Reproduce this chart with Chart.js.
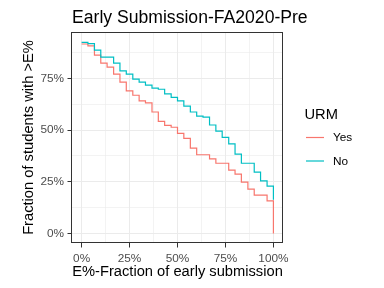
<!DOCTYPE html>
<html>
<head>
<meta charset="utf-8">
<script src="https://cdn.jsdelivr.net/npm/chart.js@4/dist/chart.umd.min.js"></script>
<style>
  html, body { margin: 0; padding: 0; background: #fff; }
  #chart { display: block; }
</style>
</head>
<body>
<canvas id="chart" width="384" height="288"></canvas>
<script>
(function () {
    // E% (fraction of early submission), where each step starts
    var earlyPct = [0, 3.3, 6.7, 10, 13.3, 16.7, 20, 23.3, 26.7, 30, 33.3, 36.7, 40, 43.3, 46.7,
                    50, 53.3, 56.7, 60, 63.3, 66.7, 70, 73.3, 76.7, 80, 83.3, 86.7, 90, 93.3, 96.7, 100];
    // fraction of students with > E%, in percent
    var urmYes = [91.7, 90.8, 86.3, 82.4, 80.5, 77.1, 73.2, 69.0, 66.9, 64.2, 63.2, 58.8, 54.3, 52.3, 51.4,
                  48.4, 46.0, 41.3, 38.1, 38.1, 36.1, 34.0, 34.0, 30.7, 28.7, 24.9, 21.5, 18.6, 18.6, 15.8, 0];
    var urmNo = [92.5, 91.9, 88.7, 85.3, 85.3, 82.4, 78.7, 77.1, 74.7, 73.2, 71.8, 70.3, 69.8, 67.6, 65.9,
                 64.2, 61.6, 58.8, 56.8, 56.3, 52.5, 49.5, 46.5, 43.4, 38.4, 34.0, 34.0, 29.7, 25.5, 22.9, 16.3];
    var groupNames = ['Yes', 'No'];
    var groupColors = ['#F8766D', '#00BFC4'];
    var xTicks = [0, 12.5, 25, 37.5, 50, 62.5, 75, 87.5, 100];
    var yTicks = [0, 12.5, 25, 37.5, 50, 62.5, 75, 87.5];

    var FONT = '"Liberation Sans", Arial, sans-serif';

    function toPoints(ys) {
        var pts = [];
        for (var i = 0; i < ys.length; i++) {
            pts.push({ x: earlyPct[i], y: ys[i] });
        }
        return pts;
    }

    function isMajor(v) {
        return v % 25 === 0;
    }

    function gridOpts() {
        return {
            color: '#EBEBEB',
            lineWidth: function (c) { return isMajor(c.tick.value) ? 1 : 0.6; },
            tickColor: function (c) { return isMajor(c.tick.value) ? '#333333' : 'rgba(0,0,0,0)'; },
            tickLength: 4.5,
            drawOnChartArea: true
        };
    }

    function pctLabel(v) {
        return isMajor(v) ? v + '%' : '';
    }

    // panel border, title and legend drawn like ggplot's theme_bw
    var decor = {
        id: 'decor',
        afterDatasetsDraw: function (chart) {
            var ctx = chart.ctx, a = chart.chartArea;
            var l = Math.round(a.left) - 0.5, t = Math.round(a.top) + 0.5;
            var r = Math.round(a.right) - 0.5, b = Math.round(a.bottom) - 0.5;
            ctx.save();
            ctx.strokeStyle = '#333333';
            ctx.lineWidth = 1;
            ctx.strokeRect(l, t, r - l, b - t);
            ctx.restore();
        },
        afterDraw: function (chart) {
            var ctx = chart.ctx;
            ctx.save();
            ctx.fillStyle = '#000';
            ctx.textBaseline = 'alphabetic';
            ctx.textAlign = 'left';
            ctx.font = '17.6px ' + FONT;
            ctx.fillText('Early Submission-FA2020-Pre', 72, 22.7);

            ctx.font = '14.7px ' + FONT;
            ctx.fillText('URM', 304.5, 118.5);
            ctx.font = '11.8px ' + FONT;
            ctx.textBaseline = 'middle';
            var rows = [137.5, 161];
            for (var i = 0; i < groupNames.length; i++) {
                ctx.strokeStyle = groupColors[i];
                ctx.lineWidth = 1.2;
                ctx.beginPath();
                ctx.moveTo(306, rows[i]);
                ctx.lineTo(324, rows[i]);
                ctx.stroke();
                ctx.fillStyle = '#000';
                ctx.fillText(groupNames[i], 333, rows[i] + 0.5);
            }
            ctx.restore();
        }
    };

    new Chart(document.getElementById('chart').getContext('2d'), {
        type: 'line',
        data: {
            datasets: [
                { label: groupNames[0], data: toPoints(urmYes), borderColor: groupColors[0], order: 1 },
                { label: groupNames[1], data: toPoints(urmNo), borderColor: groupColors[1], order: 0 }
            ]
        },
        options: {
            responsive: false,
            animation: false,
            devicePixelRatio: 1,
            layout: { padding: { top: 32, right: 101, bottom: 0, left: 0 } },
            elements: {
                line: { stepped: 'before', borderWidth: 1.2, fill: false, tension: 0 },
                point: { radius: 0, hoverRadius: 0 }
            },
            plugins: {
                legend: { display: false },
                title: { display: false },
                tooltip: { enabled: false }
            },
            scales: {
                x: {
                    type: 'linear',
                    min: -5,
                    max: 105,
                    afterBuildTicks: function (s) {
                        s.ticks = xTicks.map(function (v) { return { value: v }; });
                    },
                    afterFit: function (s) { s.height = 45; },
                    grid: gridOpts(),
                    border: { display: false },
                    ticks: {
                        callback: pctLabel,
                        color: '#4D4D4D',
                        font: { family: FONT, size: 11.8 },
                        padding: 4,
                        maxRotation: 0,
                        autoSkip: false
                    },
                    title: {
                        display: true,
                        text: 'E%-Fraction of early submission',
                        color: '#000',
                        font: { family: FONT, size: 14.7 },
                        padding: { top: 0, bottom: 7.2 }
                    }
                },
                y: {
                    type: 'linear',
                    min: -4.6,
                    max: 97.5,
                    afterBuildTicks: function (s) {
                        s.ticks = yTicks.map(function (v) { return { value: v }; });
                    },
                    afterFit: function (s) { s.width = 72; },
                    grid: gridOpts(),
                    border: { display: false },
                    ticks: {
                        callback: pctLabel,
                        color: '#4D4D4D',
                        font: { family: FONT, size: 11.8 },
                        padding: 3.5,
                        autoSkip: false
                    },
                    title: {
                        display: true,
                        text: 'Fraction of students with >E%',
                        color: '#000',
                        font: { family: FONT, size: 14.7 },
                        padding: { top: 20.2, bottom: 0 }
                    }
                }
            }
        },
        plugins: [decor]
    });
})();
</script>
</body>
</html>
